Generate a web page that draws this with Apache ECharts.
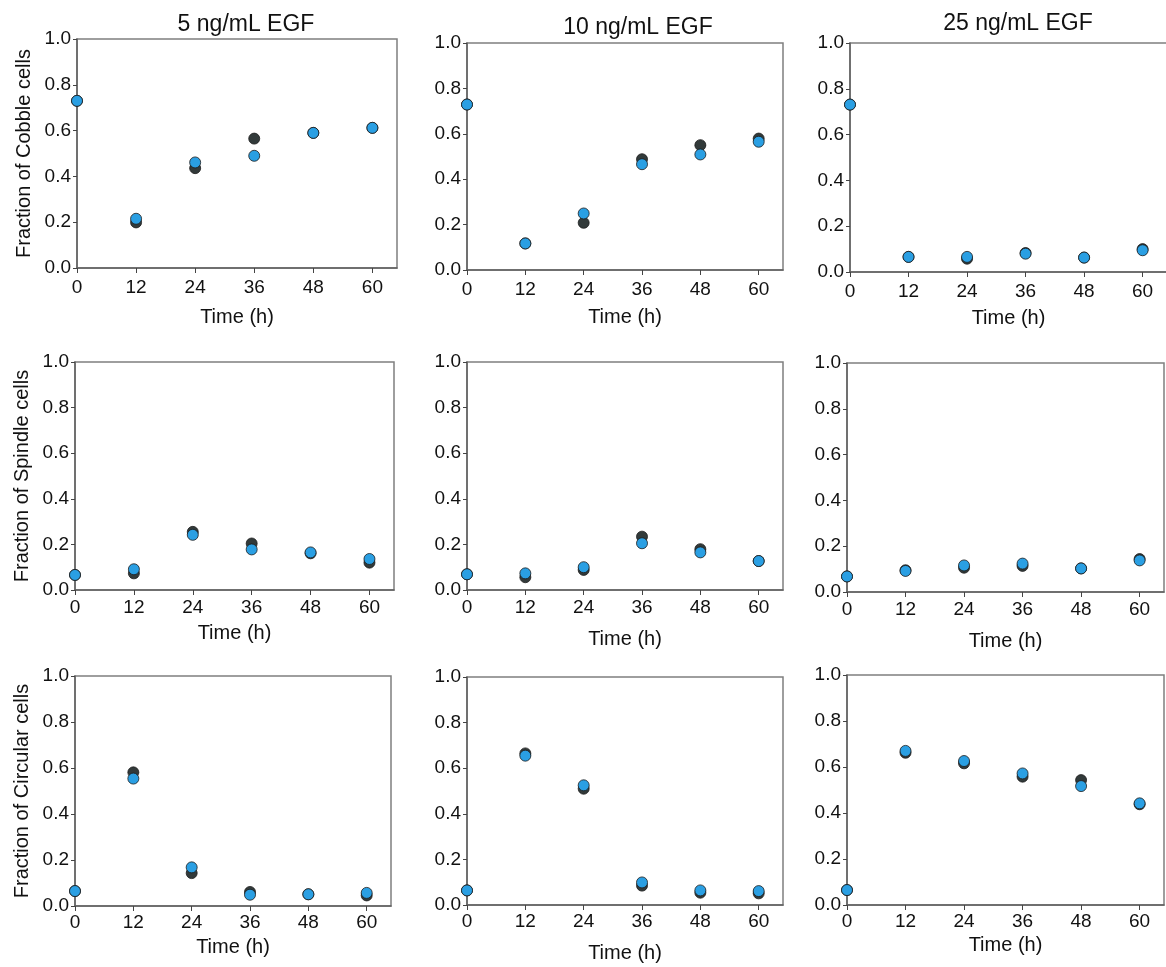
<!DOCTYPE html>
<html>
<head>
<meta charset="utf-8">
<script src="https://cdn.jsdelivr.net/npm/echarts@6/dist/echarts.min.js"></script>
<style>
html,body{margin:0;padding:0;background:#fff;}
#chart{width:1166px;height:967px;}
</style>
</head>
<body>
<div id="chart"></div>
<script>
// ---- data ----
const times = [0, 12, 24, 36, 48, 60];
const xTickLabels = [0, 12, 24, 36, 48, 60];
const doseTitles = ['5 ng/mL EGF', '10 ng/mL EGF', '25 ng/mL EGF'];
const rowNames = ['Fraction of Cobble cells', 'Fraction of Spindle cells', 'Fraction of Circular cells'];
const xName = 'Time (h)';

const cobbleDark5   = [0.730, 0.199, 0.436, 0.565, 0.590, 0.612];
const cobbleBlue5   = [0.730, 0.215, 0.461, 0.490, 0.590, 0.612];
const cobbleDark10  = [0.729, 0.117, 0.208, 0.488, 0.550, 0.579];
const cobbleBlue10  = [0.729, 0.117, 0.249, 0.466, 0.509, 0.565];
const cobbleDark25  = [0.731, 0.066, 0.058, 0.083, 0.063, 0.100];
const cobbleBlue25  = [0.731, 0.066, 0.066, 0.080, 0.063, 0.095];

const spindleDark5  = [0.066, 0.073, 0.255, 0.204, 0.161, 0.120];
const spindleBlue5  = [0.066, 0.091, 0.242, 0.178, 0.165, 0.136];
const spindleDark10 = [0.069, 0.056, 0.088, 0.234, 0.179, 0.127];
const spindleBlue10 = [0.069, 0.073, 0.100, 0.205, 0.165, 0.127];
const spindleDark25 = [0.068, 0.095, 0.106, 0.114, 0.103, 0.144];
const spindleBlue25 = [0.068, 0.092, 0.116, 0.124, 0.103, 0.138];

const circularDark5  = [0.065, 0.581, 0.143, 0.061, 0.051, 0.046];
const circularBlue5  = [0.065, 0.554, 0.168, 0.049, 0.051, 0.057];
const circularDark10 = [0.064, 0.665, 0.510, 0.085, 0.054, 0.051];
const circularBlue10 = [0.064, 0.655, 0.525, 0.099, 0.064, 0.061];
const circularDark25 = [0.065, 0.662, 0.616, 0.558, 0.543, 0.438];
const circularBlue25 = [0.065, 0.670, 0.626, 0.572, 0.517, 0.442];

const panelData = [
  [cobbleDark5, cobbleBlue5], [cobbleDark10, cobbleBlue10], [cobbleDark25, cobbleBlue25],
  [spindleDark5, spindleBlue5], [spindleDark10, spindleBlue10], [spindleDark25, spindleBlue25],
  [circularDark5, circularBlue5], [circularDark10, circularBlue10], [circularDark25, circularBlue25]
];

// ---- layout (pixels) ----
const gridBoxes = [
  {left: 77,  top: 39,  width: 320, height: 229},
  {left: 467, top: 43,  width: 316, height: 227},
  {left: 850, top: 43,  width: 317, height: 229},
  {left: 75,  top: 362, width: 319, height: 228},
  {left: 467, top: 362, width: 316, height: 228},
  {left: 847, top: 363, width: 317, height: 229},
  {left: 75,  top: 676, width: 316, height: 230},
  {left: 467, top: 677, width: 316, height: 228},
  {left: 847, top: 675, width: 317, height: 230}
];
const labelMargins = [10, 10, 10, 8, 8, 8, 7, 7, 7];
const xNameGaps = [39, 37, 36, 33, 39, 39, 31, 38, 30];
const titlePos = [{x: 241, y: 8}, {x: 633, y: 11}, {x: 1013, y: 7}];

const FONT = 'Liberation Sans, Arial, sans-serif';
const DARK = '#323a3a';
const BLUE = '#2a9fe3';

const grids = [], xAxes = [], yAxes = [], series = [];
gridBoxes.forEach((g, i) => {
  grids.push(Object.assign({
    show: true, borderColor: '#7f7f7f', borderWidth: 1.5,
    containLabel: false, outerBoundsMode: 'none'
  }, g));
  xAxes.push({
    gridIndex: i, type: 'value', min: 0, max: 65,
    name: xName, nameLocation: 'middle', nameGap: xNameGaps[i], nameMoveOverlap: false,
    nameTextStyle: {fontFamily: FONT, fontSize: 20, color: '#111'},
    splitLine: {show: false},
    axisLine: {show: true, onZero: false, lineStyle: {color: '#606060', width: 1.5}},
    axisTick: {show: true, inside: false, length: 5, customValues: xTickLabels, lineStyle: {color: '#444'}},
    axisLabel: {show: true, margin: labelMargins[i], customValues: xTickLabels,
      fontFamily: FONT, fontSize: 19, color: '#111'}
  });
  const col = i % 3, row = Math.floor(i / 3);
  yAxes.push({
    gridIndex: i, type: 'value', min: 0, max: 1, interval: 0.2,
    name: col === 0 ? rowNames[row] : '', nameLocation: 'middle', nameGap: 43, nameRotate: 90,
    nameMoveOverlap: false,
    nameTextStyle: {fontFamily: FONT, fontSize: 20, color: '#111'},
    splitLine: {show: false},
    axisLine: {show: true, onZero: false, lineStyle: {color: '#606060', width: 1.5}},
    axisTick: {show: true, inside: false, length: 4, lineStyle: {color: '#444'}},
    axisLabel: {show: true, margin: 6, fontFamily: FONT, fontSize: 19, color: '#111',
      formatter: v => v.toFixed(1)}
  });
  const [darkVals, blueVals] = panelData[i];
  series.push({
    type: 'scatter', xAxisIndex: i, yAxisIndex: i, symbol: 'circle', symbolSize: 11,
    itemStyle: {color: DARK, borderColor: '#1c1c1c', borderWidth: 0.8, opacity: 1},
    data: times.map((t, k) => [t, darkVals[k]]), z: 2, silent: true
  });
  series.push({
    type: 'scatter', xAxisIndex: i, yAxisIndex: i, symbol: 'circle', symbolSize: 11,
    itemStyle: {color: BLUE, borderColor: '#1c1c1c', borderWidth: 0.8, opacity: 1},
    data: times.map((t, k) => [t, blueVals[k]]), z: 3, silent: true
  });
});

const titles = doseTitles.map((t, i) => ({
  text: t, left: titlePos[i].x, top: titlePos[i].y, textAlign: 'center',
  textStyle: {fontFamily: FONT, fontSize: 23, fontWeight: 'normal', color: '#111'}
}));

const chart = echarts.init(document.getElementById('chart'), null, {renderer: 'canvas'});
chart.setOption({
  animation: false,
  backgroundColor: '#fff',
  title: titles,
  grid: grids,
  xAxis: xAxes,
  yAxis: yAxes,
  series: series
});
</script>
</body>
</html>
